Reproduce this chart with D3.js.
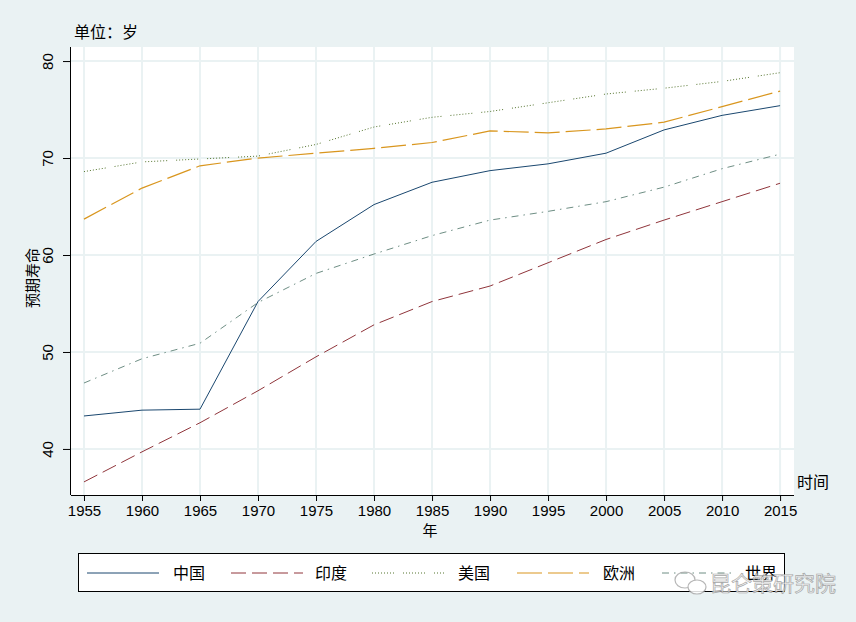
<!DOCTYPE html>
<html><head><meta charset="utf-8">
<script src="https://cdn.jsdelivr.net/npm/d3@7"></script>
<style>body{margin:0;background:#eaf2f3;} svg{display:block;}</style>
</head><body>
<svg id="c" width="856" height="622"></svg>
<script>
const years = [1955,1960,1965,1970,1975,1980,1985,1990,1995,2000,2005,2010,2015];
const china  = [43.4,44.0,44.1,55.2,61.4,65.2,67.5,68.7,69.4,70.5,72.9,74.4,75.4];
const india  = [36.6,39.7,42.7,46.0,49.5,52.8,55.2,56.8,59.2,61.6,63.6,65.5,67.4];
const usa    = [68.6,69.6,69.9,70.2,71.4,73.2,74.2,74.8,75.7,76.6,77.2,77.9,78.8];
const europe = [63.7,66.9,69.2,70.0,70.5,71.0,71.6,72.8,72.6,73.0,73.7,75.3,76.9];
const world  = [46.8,49.3,50.9,55.1,58.1,60.1,62.0,63.6,64.5,65.5,67.0,68.9,70.4];
const seriesNames = ["中国","印度","美国","欧洲","世界"];
const yTicks = [40,50,60,70,80];
const xTicks = years;

const svg = d3.select("#c");
const L = 71, R = 794, T = 47, B = 495;
const x = d3.scaleLinear().domain([1953.88, 2016.2]).range([L, R]);
const y = d3.scaleLinear().domain([35.25, 81.45]).range([B, T]);

svg.append("rect").attr("width",856).attr("height",622).attr("fill","#eaf2f3");
svg.append("rect").attr("x",L).attr("y",T).attr("width",R-L).attr("height",B-T).attr("fill","#ffffff");

// grid
svg.append("g").selectAll("line").data(xTicks).join("line")
  .attr("x1",d=>x(d)).attr("x2",d=>x(d)).attr("y1",T).attr("y2",B)
  .attr("stroke","#eaf2f3").attr("stroke-width",2);
svg.append("g").selectAll("line").data(yTicks).join("line")
  .attr("x1",L).attr("x2",R).attr("y1",d=>y(d)).attr("y2",d=>y(d))
  .attr("stroke","#eaf2f3").attr("stroke-width",2);

const styles = [
  {data:china, color:"#1a476f", dash:null, w:1},
  {data:india, color:"#90353b", dash:"15,6", w:1},
  {data:usa, color:"#55752f", dash:"1,2,1,2,1,2,1,2,1,2,1,2,1,2,1,9", w:1},
  {data:europe, color:"#d9961e", dash:"25,6", w:1.2},
  {data:world, color:"#6e8e84", dash:"7,5,1.5,5", w:1}
];
const line = d3.line().x((d,i)=>x(years[i])).y(d=>y(d));
styles.forEach(s=>{
  svg.append("path").attr("d",line(s.data)).attr("fill","none")
    .attr("stroke",s.color).attr("stroke-width",s.w)
    .attr("stroke-dasharray",s.dash);
});

// axes
const xAxis = d3.axisBottom(x).tickValues(xTicks).tickFormat(d3.format("d")).tickSize(6).tickSizeOuter(0);
const gx = svg.append("g").attr("transform",`translate(0,${B})`).call(xAxis);
gx.select(".domain").attr("d",`M${L},0.5H${R}`).attr("stroke","#000");
gx.selectAll("text").attr("font-family","Liberation Sans, Arial, sans-serif").attr("font-size",15).attr("fill","#000").attr("dy","0.95em").attr("y",7);
gx.selectAll(".tick line").attr("stroke","#000");

const yAxis = d3.axisLeft(y).tickValues(yTicks).tickSize(8).tickSizeOuter(0);
const gy = svg.append("g").attr("transform",`translate(${L},0)`).call(yAxis);
gy.select(".domain").attr("d",`M-0.5,${T}V${B}`).attr("stroke","#000");
gy.selectAll(".tick line").attr("stroke","#000");
gy.selectAll("text").attr("font-family","Liberation Sans, Arial, sans-serif").attr("font-size",15).attr("fill","#000")
  .attr("x",null).attr("dy",null).attr("text-anchor","middle")
  .attr("transform","translate(-18,0) rotate(-90)").attr("y",0);

const cjk = "Noto Sans CJK SC, sans-serif";
svg.append("text").attr("x",74).attr("y",38).attr("font-family",cjk).attr("font-size",16).attr("fill","#000").text("单位：岁");
svg.append("text").attr("transform","translate(31,278) rotate(-90)").attr("text-anchor","middle").attr("dominant-baseline","central").attr("font-family",cjk).attr("font-size",15).attr("fill","#000").text("预期寿命");
svg.append("text").attr("x",430).attr("y",536).attr("text-anchor","middle").attr("font-family",cjk).attr("font-size",15).attr("fill","#000").text("年");
svg.append("text").attr("x",797).attr("y",488).attr("font-family",cjk).attr("font-size",16).attr("fill","#000").text("时间");

// legend
svg.append("rect").attr("x",78.5).attr("y",553.5).attr("width",706).attr("height",38).attr("fill","#fff").attr("stroke","#000").attr("stroke-width",1);
const keyX = [87,231,372,517,662];
const textX = [173,315,458,603,745];
styles.forEach((s,i)=>{
  svg.append("line").attr("x1",keyX[i]).attr("x2",keyX[i]+72).attr("y1",573).attr("y2",573)
    .attr("stroke",s.color).attr("stroke-width",s.w).attr("stroke-dasharray",s.dash);
  svg.append("text").attr("x",textX[i]).attr("y",579).attr("font-family",cjk).attr("font-size",16).attr("fill","#000").text(seriesNames[i]);
});

// watermark (overlaps legend in the reference)
const wm = svg.append("g").attr("opacity",0.85);
wm.append("ellipse").attr("cx",685).attr("cy",580).attr("rx",10).attr("ry",8).attr("fill","none").attr("stroke","#aaa").attr("stroke-width",1.2);
wm.append("ellipse").attr("cx",697).attr("cy",587).attr("rx",9).attr("ry",7).attr("fill","#fff").attr("stroke","#aaa").attr("stroke-width",1.2);
wm.append("text").attr("x",710).attr("y",591).attr("font-family",cjk).attr("font-size",21).attr("fill","#f2f2f2").attr("stroke","#999").attr("stroke-width",0.7).text("昆仑策研究院");
</script>
</body></html>
